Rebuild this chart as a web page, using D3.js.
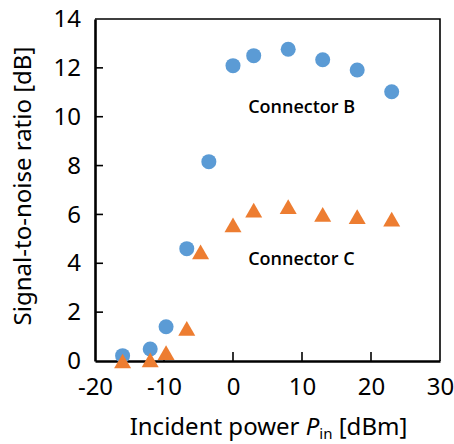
<!DOCTYPE html>
<html>
<head>
<meta charset="utf-8">
<script src="https://cdn.jsdelivr.net/npm/d3@7"></script>
<style>
  body { margin: 0; background: #fff; }
  text { font-family: "Noto Sans", "Open Sans", sans-serif; fill: #000; }
</style>
</head>
<body>
<div id="chart"></div>
<script>
// Connector B (circles)
const powerB = [-16, -12, -9.7, -6.7, -3.5, 0, 3, 8, 13, 18, 23];
const snrB = [0.22, 0.49, 1.4, 4.6, 8.16, 12.09, 12.5, 12.76, 12.33, 11.91, 11.02];
// Connector C (triangles)
const powerC = [-16, -12, -9.7, -6.7, -4.7, 0, 3, 8, 13, 18, 23];
const snrC = [0.0, 0.05, 0.34, 1.34, 4.47, 5.57, 6.18, 6.32, 6.0, 5.91, 5.81];

const xTicks = [-20, -10, 0, 10, 20, 30];
const yTicks = [0, 2, 4, 6, 8, 10, 12, 14];

const W = 454, H = 444;
const margin = { t: 19, r: 14, b: 83, l: 95 };
const w = W - margin.l - margin.r;
const h = H - margin.t - margin.b;

const x = d3.scaleLinear().domain([-20, 30]).range([0, w]);
const y = d3.scaleLinear().domain([0, 14]).range([h, 0]);

const svg = d3.select('#chart').append('svg')
  .attr('width', W)
  .attr('height', H);

const g = svg.append('g')
  .attr('transform', `translate(${margin.l}, ${margin.t})`);

// frame top/right
g.append('path')
  .attr('d', `M0,0H${w}V${h}`)
  .attr('fill', 'none')
  .attr('stroke', '#000')
  .attr('stroke-width', 1.6);

// Axes
const xAxis = d3.axisBottom(x).tickValues(xTicks).tickSize(0).tickPadding(17).tickFormat(d3.format('d'));
const yAxis = d3.axisLeft(y).tickValues(yTicks).tickSize(0).tickPadding(14);

const gx = g.append('g').attr('transform', `translate(0, ${h})`).call(xAxis);
const gy = g.append('g').call(yAxis);

[gx, gy].forEach(a => {
  a.select('.domain').attr('stroke', '#000').attr('stroke-width', 2.6);
  a.selectAll('text')
    .style('font-family', '"Noto Sans", sans-serif')
    .style('font-size', '24px')
    .attr('fill', '#000');
});
gx.selectAll('text').text(d => String(d).replace('-', '-'));

// inward ticks
g.append('g').selectAll('line')
  .data(yTicks.slice(1, -1))
  .join('line')
  .attr('x1', 0).attr('x2', 8)
  .attr('y1', d => y(d)).attr('y2', d => y(d))
  .attr('stroke', '#000').attr('stroke-width', 1.6);

g.append('g').selectAll('line')
  .data(xTicks.slice(1, -1))
  .join('line')
  .attr('y1', h).attr('y2', h - 9)
  .attr('x1', d => x(d)).attr('x2', d => x(d))
  .attr('stroke', '#000').attr('stroke-width', 1.6);

// Connector B circles
g.append('g').selectAll('circle')
  .data(powerB.map((p, i) => ({ p, v: snrB[i] })))
  .join('circle')
  .attr('cx', d => x(d.p))
  .attr('cy', d => y(d.v))
  .attr('r', 7.5)
  .attr('fill', '#5B9BD5');

// Connector C triangles (centred on bounding box like Excel)
const triSide = 17;
const triH = triSide * Math.sqrt(3) / 2;
const tri = d3.symbol().type(d3.symbolTriangle).size(Math.sqrt(3) / 4 * triSide * triSide);
g.append('g').selectAll('path')
  .data(powerC.map((p, i) => ({ p, v: snrC[i] })))
  .join('path')
  .attr('d', tri)
  .attr('transform', d => `translate(${x(d.p)}, ${y(d.v) + triH / 6})`)
  .attr('fill', '#ED7D31');

// Series labels
g.append('text')
  .attr('x', x(2.2)).attr('y', y(10.15))
  .style('font-family', '"Open Sans", sans-serif')
  .style('font-size', '18px')
  .style('font-weight', 600)
  .text('Connector B');

g.append('text')
  .attr('x', x(2.2)).attr('y', y(3.93))
  .style('font-family', '"Open Sans", sans-serif')
  .style('font-size', '18px')
  .style('font-weight', 600)
  .text('Connector C');

// Axis titles
const xt = svg.append('text')
  .attr('x', margin.l + w / 2 + 1)
  .attr('y', 435)
  .attr('text-anchor', 'middle')
  .style('font-size', '24px');
xt.append('tspan').text('Incident power ');
xt.append('tspan').style('font-style', 'italic').text('P');
xt.append('tspan').attr('dy', 4).style('font-size', '15px').text('in');
xt.append('tspan').attr('dy', -4).text(' [dBm]');

svg.append('text')
  .attr('transform', `translate(31, ${margin.t + h / 2 - 4}) rotate(-90)`)
  .attr('text-anchor', 'middle')
  .style('font-size', '24px')
  .text('Signal-to-noise ratio [dB]');
</script>
</body>
</html>
